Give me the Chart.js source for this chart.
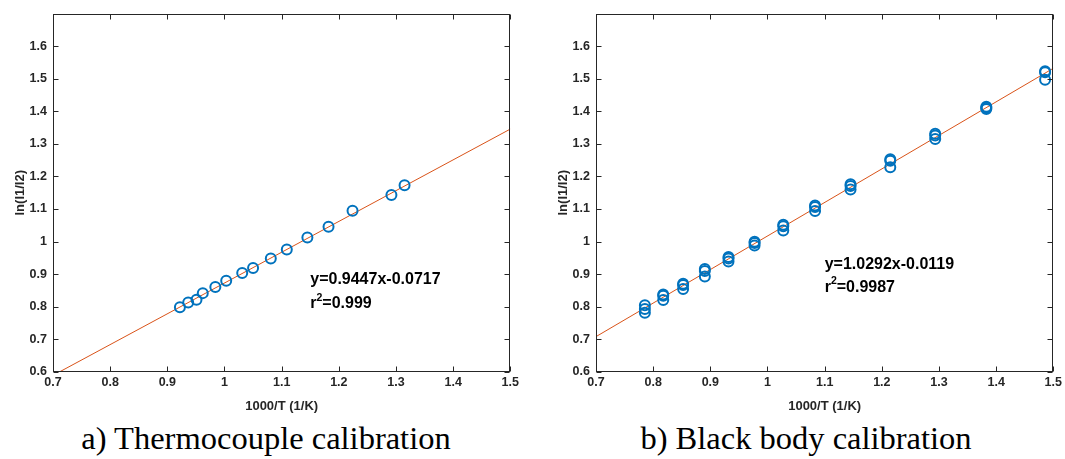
<!DOCTYPE html>
<html>
<head>
<meta charset="utf-8">
<script src="https://cdn.jsdelivr.net/npm/chart.js@4.4.1/dist/chart.umd.min.js"></script>
<style>
  html, body { margin: 0; padding: 0; background: #fff; }
  #page { position: relative; width: 1065px; height: 459px; overflow: hidden; background: #fff; }
  canvas { position: absolute; top: 0; }
  .cap {
    position: absolute; top: 422px; width: 520px; text-align: center;
    font-family: 'Liberation Serif', 'Times New Roman', serif;
    font-size: 32.5px; line-height: 1; color: #000; white-space: nowrap;
  }
</style>
</head>
<body>
<div id="page">
  <canvas id="chartA" width="522" height="420" style="left:0"></canvas>
  <canvas id="chartB" width="522" height="420" style="left:543px"></canvas>
  <div class="cap" style="left:6px">a) Thermocouple calibration</div>
  <div class="cap" style="left:546px">b) Black body calibration</div>
</div>
<script>
// ticks shared by both panels
const xTicks = [0.7, 0.8, 0.9, 1, 1.1, 1.2, 1.3, 1.4, 1.5];
const yTicks = [0.6, 0.7, 0.8, 0.9, 1, 1.1, 1.2, 1.3, 1.4, 1.5, 1.6];

// a) thermocouple calibration - measured points
const tcX = [0.922, 0.9365, 0.951, 0.962, 0.984, 1.003, 1.031, 1.050, 1.081, 1.109, 1.145, 1.182, 1.224, 1.292, 1.315];
const tcY = [0.799, 0.813, 0.822, 0.842, 0.861, 0.880, 0.904, 0.919, 0.948, 0.976, 1.013, 1.046, 1.095, 1.143, 1.173];
// a) fitted line end points
const tcFitX = [0.7, 1.5];
const tcFitY = [0.5896, 1.3454];

// b) black body calibration - measured points (3 per temperature)
const bbX = [0.7855, 0.7855, 0.7855, 0.8176, 0.8176, 0.8176, 0.8524, 0.8524, 0.8524,
             0.8904, 0.8904, 0.8904, 0.9318, 0.9318, 0.9318, 0.9774, 0.9774, 0.9774,
             1.0276, 1.0276, 1.0276, 1.0832, 1.0832, 1.0832, 1.1453, 1.1453, 1.1453,
             1.2148, 1.2148, 1.2148, 1.2934, 1.2934, 1.2934, 1.3828, 1.3828, 1.3828,
             1.4856, 1.4856, 1.4856];
const bbY = [0.805, 0.793, 0.782, 0.838, 0.834, 0.821, 0.871, 0.867, 0.855,
             0.916, 0.910, 0.893, 0.953, 0.948, 0.939, 1.000, 0.996, 0.988,
             1.052, 1.047, 1.034, 1.111, 1.106, 1.094, 1.176, 1.171, 1.160,
             1.253, 1.248, 1.228, 1.331, 1.326, 1.315, 1.414, 1.411, 1.407,
             1.523, 1.520, 1.497];
// b) fitted line end points
const bbFitX = [0.7, 1.5];
const bbFitY = [0.7085, 1.5319];

const AXIS = '#262626';
const FONT = "'Liberation Sans', Helvetica, Arial, sans-serif";

// box round the plot + inward ticks on all four sides + equation text
const matlabAxes = {
    id: 'matlabAxes',
    afterDraw(chart, args, opts) {
        const { ctx, chartArea: a, scales: { x, y } } = chart;
        const L = Math.round(a.left) + 0.5, R = Math.round(a.right) - 0.5;
        const T = Math.round(a.top) + 0.5, B = Math.round(a.bottom) - 0.5;
        ctx.save();
        ctx.strokeStyle = AXIS;
        ctx.lineWidth = 1;
        ctx.strokeRect(L, T, R - L, B - T);
        ctx.beginPath();
        x.ticks.forEach(t => {
            const p = Math.round(x.getPixelForValue(t.value)) + 0.5;
            ctx.moveTo(p, B); ctx.lineTo(p, B - 5);
            ctx.moveTo(p, T); ctx.lineTo(p, T + 5);
        });
        y.ticks.forEach(t => {
            const p = Math.round(y.getPixelForValue(t.value)) + 0.5;
            ctx.moveTo(L, p); ctx.lineTo(L + 5, p);
            ctx.moveTo(R, p); ctx.lineTo(R - 5, p);
        });
        ctx.stroke();

        // equation + r^2
        const n = opts.note;
        if (n) {
            const xp = x.getPixelForValue(n.x);
            const y1 = y.getPixelForValue(n.y1);
            const y2 = y.getPixelForValue(n.y2);
            ctx.fillStyle = '#000';
            ctx.textAlign = 'left';
            ctx.textBaseline = 'middle';
            ctx.font = 'bold 16px ' + FONT;
            ctx.fillText(n.eq, xp, y1);
            ctx.fillText('r', xp, y2);
            let w = ctx.measureText('r').width;
            ctx.font = 'bold 10.5px ' + FONT;
            ctx.fillText('2', xp + w, y2 - 6);
            w += ctx.measureText('2').width;
            ctx.font = 'bold 16px ' + FONT;
            ctx.fillText('=' + n.r2, xp + w, y2);
        }
        ctx.restore();
    }
};

function makeChart(id, px, py, fx, fy, note, padRight) {
    return new Chart(document.getElementById(id), {
        type: 'scatter',
        data: {
            datasets: [{
                data: px.map((v, i) => ({ x: v, y: py[i] })),
                showLine: false,
                pointStyle: 'circle',
                pointRadius: 5,
                pointBorderWidth: 2,
                pointBorderColor: '#0072BD',
                pointBackgroundColor: 'rgba(0,0,0,0)',
                order: 1
            }, {
                data: fx.map((v, i) => ({ x: v, y: fy[i] })),
                showLine: true,
                borderColor: '#D95319',
                borderWidth: 1,
                pointRadius: 0,
                order: 2
            }]
        },
        options: {
            responsive: false,
            animation: false,
            events: [],
            layout: { padding: { left: 0, right: padRight, top: 9, bottom: 0 } },
            plugins: {
                legend: { display: false },
                tooltip: { enabled: false },
                matlabAxes: { note: note }
            },
            scales: {
                x: {
                    type: 'linear',
                    min: 0.7,
                    max: 1.5,
                    afterBuildTicks: s => { s.ticks = xTicks.map(v => ({ value: v })); },
                    afterFit: s => { s.height = 48; },
                    grid: { display: false, drawTicks: false },
                    border: { display: false },
                    ticks: {
                        padding: 3,
                        color: AXIS,
                        maxRotation: 0,
                        autoSkip: false,
                        font: { family: FONT, size: 12.5, weight: 'bold' },
                        callback: v => String(v)
                    },
                    title: {
                        display: true,
                        text: '1000/T (1/K)',
                        color: AXIS,
                        font: { family: FONT, size: 13, weight: 'bold' },
                        padding: { top: 0, bottom: 6 }
                    }
                },
                y: {
                    type: 'linear',
                    min: 0.6,
                    max: 1.7,
                    afterBuildTicks: s => { s.ticks = yTicks.map(v => ({ value: v })); },
                    afterFit: s => { s.width = 53; },
                    grid: { display: false, drawTicks: false },
                    border: { display: false },
                    ticks: {
                        padding: 6,
                        color: AXIS,
                        autoSkip: false,
                        font: { family: FONT, size: 12.5, weight: 'bold' },
                        callback: v => String(v)
                    },
                    title: {
                        display: true,
                        text: 'ln(I1/I2)',
                        color: AXIS,
                        font: { family: FONT, size: 13, weight: 'bold' },
                        padding: { top: 12.5, bottom: 0 }
                    }
                }
            }
        },
        plugins: [matlabAxes]
    });
}

makeChart('chartA', tcX, tcY, tcFitX, tcFitY,
    { x: 1.15, y1: 0.884, y2: 0.809, eq: 'y=0.9447x-0.0717', r2: '0.999' }, 10);
makeChart('chartB', bbX, bbY, bbFitX, bbFitY,
    { x: 1.10, y1: 0.93, y2: 0.86, eq: 'y=1.0292x-0.0119', r2: '0.9987' }, 11);
</script>
</body>
</html>
